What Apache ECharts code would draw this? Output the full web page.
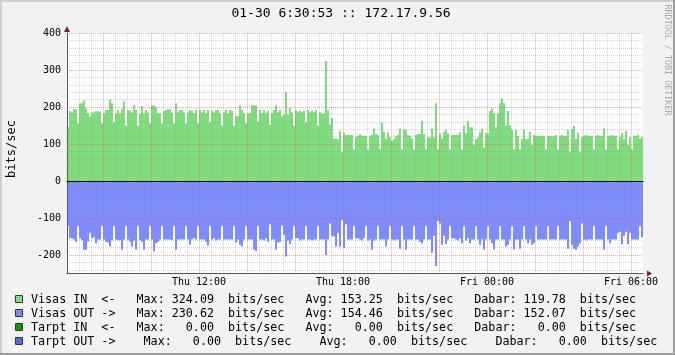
<!DOCTYPE html>
<html><head><meta charset="utf-8">
<script src="https://cdn.jsdelivr.net/npm/echarts@6/dist/echarts.min.js"></script>
<style>html,body{margin:0;padding:0;background:#f2f2f2}#c{width:675px;height:355px}</style>
</head><body><div id="c"></div>
<script>
const titleText = '01-30 6:30:53 :: 172.17.9.56';
const yAxisName = 'bits/sec';
const watermark = 'RRDTOOL / TOBI OETIKER';
const startMinute = 390;   // Thu 06:30, minutes from Thu 00:00
const endMinute = 1830;    // Fri 06:30
const stepMinutes = 5;
const xTickValues = [720, 1080, 1440, 1800];
const xTickLabels = ['Thu 12:00', 'Thu 18:00', 'Fri 00:00', 'Fri 06:00'];
const yTickLabels = [-200, -100, 0, 100, 200, 300, 400];

const visasIn = [
146,189,185,194,194,156,210,210,217,196,183,174,
185,186,189,188,188,156,183,192,192,221,210,158,
183,192,183,196,215,149,192,190,185,205,192,149,
181,203,183,192,185,156,205,205,199,183,183,156,
189,192,194,194,185,156,210,186,192,192,185,156,
185,192,190,183,192,156,192,186,192,183,192,158,
190,185,192,192,183,150,185,192,183,192,190,149,
176,176,205,192,183,156,183,183,205,205,205,160,
192,183,192,183,190,152,183,192,205,186,192,174,
180,240,180,197,186,149,192,186,190,186,190,158,
192,186,190,186,192,149,186,183,183,324.09,192,152,
170,115,115,113,135,79,132,124,124,124,124,86,
118,122,127,122,122,122,86,122,124,142,127,124,
86,158,133,114,131,118,109,113,121,124,142,86,
140,138,124,122,115,86,124,127,127,163,127,86,
118,118,142,118,210,86,129,115,133,138,129,86,
124,124,124,124,132,86,149,129,162,145,145,97,
113,118,132,141,90,129,129,189,196,183,145,183,
210,223,210,150,189,151,138,86,138,122,86,113,
138,113,115,133,97,124,122,122,122,122,122,86,
122,122,120,122,124,86,122,124,122,122,138,79,
141,149,114,131,79,118,122,124,122,122,122,86,
122,124,122,122,142,86,122,122,124,122,122,86,
118,129,113,135,97,118,86,122,122,124,115,119.78
];
const visasOut = [
-122,-155,-155,-158,-164,-122,-155,-160,-186,-186,-164,-140,
-155,-152,-168,-158,-158,-122,-158,-164,-166,-177,-160,-122,
-158,-160,-160,-186,-158,-122,-158,-164,-177,-161,-186,-122,
-160,-164,-185,-158,-158,-122,-158,-190,-168,-164,-158,-122,
-158,-158,-158,-158,-160,-122,-186,-158,-158,-158,-158,-122,
-158,-172,-158,-155,-158,-122,-158,-158,-158,-164,-175,-122,
-158,-155,-161,-158,-158,-122,-158,-158,-158,-158,-158,-122,
-166,-158,-172,-177,-158,-122,-158,-158,-158,-185,-189,-122,
-158,-158,-161,-155,-164,-117,-158,-158,-186,-166,-164,-120,
-145,-204,-161,-170,-158,-122,-155,-155,-161,-158,-158,-122,
-158,-158,-161,-158,-158,-122,-158,-158,-158,-200,-158,-115,
-150,-150,-177,-140,-177,-106,-181,-117,-158,-158,-158,-122,
-155,-155,-158,-161,-155,-122,-161,-158,-186,-161,-158,-122,
-158,-158,-158,-177,-158,-122,-158,-161,-158,-158,-183,-122,
-158,-186,-158,-158,-158,-122,-158,-158,-164,-168,-158,-122,
-158,-158,-194,-148,-230.62,-108,-115,-172,-148,-170,-158,-122,
-155,-155,-158,-161,-155,-168,-122,-161,-155,-168,-158,-158,
-122,-158,-172,-158,-185,-158,-122,-158,-168,-185,-158,-158,
-122,-158,-158,-177,-172,-158,-122,-185,-158,-158,-183,-158,
-122,-158,-168,-158,-172,-168,-122,-158,-158,-158,-158,-158,
-122,-158,-158,-158,-158,-122,-158,-158,-158,-158,-183,-108,
-172,-183,-186,-177,-168,-115,-158,-161,-158,-158,-158,-122,
-158,-158,-158,-158,-186,-122,-158,-168,-158,-158,-158,-140,
-137,-170,-148,-137,-170,-140,-158,-158,-158,-158,-122,-152.07
];

const legendNames = ['Visas IN  <-', 'Visas OUT ->', 'Tarpt IN  <-', 'Tarpt OUT ->'];
const legendColors = ['#7fdd7f', '#8585ff', '#00a000', '#4f6fcf'];
const legendMax = ['324.09', '230.62', '0.00', '0.00'];
const legendAvg = ['153.25', '154.46', '0.00', '0.00'];
const legendCur = ['119.78', '152.07', '0.00', '0.00'];
const unit = 'bits/sec';

// grid steps (axis units)
const xMinorStep = 30, xMajorStep = 120, xMajorFirst = 480;
const yMin = -250, yMax = 400, yMinorStep = 20, yMajorStep = 100;

const pad6 = s => ('      ' + s).slice(-6);
function legendLine(i) {
  const g = i === 3 ? '    ' : '   ';
  return legendNames[i] + g + 'Max: ' + pad6(legendMax[i]) + '  ' + unit + g +
         'Avg: ' + pad6(legendAvg[i]) + '  ' + unit + g +
         'Dabar: ' + pad6(legendCur[i]) + '  ' + unit;
}

const MONO = '"DejaVu Sans Mono", "Liberation Mono", monospace';
const minorC = 'rgba(150,150,150,0.42)';
const majorC = 'rgba(225,90,90,0.55)';

const minorLines = [], majorLines = [];
for (let v = startMinute + xMinorStep; v < endMinute; v += xMinorStep) {
  if ((v - xMajorFirst) % xMajorStep === 0) majorLines.push({xAxis: v});
  else minorLines.push({xAxis: v});
}
for (let v = -240; v <= yMax; v += yMinorStep) {
  if (v % yMajorStep === 0) majorLines.push({yAxis: v});
  else minorLines.push({yAxis: v});
}

const chart = echarts.init(document.getElementById('c'), null, {renderer: 'canvas'});

const graphics = [
  {type:'rect', shape:{x:0,y:0,width:675,height:2}, style:{fill:'#cfcfcf'}, z:10},
  {type:'rect', shape:{x:0,y:0,width:2,height:355}, style:{fill:'#cfcfcf'}, z:10},
  {type:'rect', shape:{x:0,y:353,width:675,height:2}, style:{fill:'#9e9e9e'}, z:10},
  {type:'rect', shape:{x:673,y:0,width:2,height:355}, style:{fill:'#9e9e9e'}, z:10},
  {type:'text', x:341, y:14, style:{text:titleText, font:'13px ' + MONO, fill:'#000', textAlign:'center', textVerticalAlign:'middle'}, z:10},
  {type:'text', x:12, y:149, rotation:Math.PI/2, style:{text:yAxisName, font:'12px ' + MONO, fill:'#000', textAlign:'center', textVerticalAlign:'middle'}, z:10},
  {type:'text', x:667, y:60, rotation:-Math.PI/2, style:{text:watermark, font:'8.4px ' + MONO, fill:'#a8a8a8', textAlign:'center', textVerticalAlign:'middle'}, z:10},
  {type:'polygon', shape:{points:[[64,32],[70,32],[67,26]]}, style:{fill:'#801f1f'}, z:10},
  {type:'polygon', shape:{points:[[647,270.5],[647,276.5],[652,273.5]]}, style:{fill:'#801f1f'}, z:10}
];
const legendY = [299.5, 313.5, 327.5, 341.5];
for (let i = 0; i < 4; i++) {
  graphics.push({type:'rect', shape:{x:15.5, y:legendY[i]-4, width:7, height:7},
    style:{fill:legendColors[i], stroke:'#333', lineWidth:1}, z:10});
  graphics.push({type:'text', x:31, y:legendY[i], style:{text:legendLine(i), font:'11.7px ' + MONO,
    fill:'#000', textAlign:'left', textVerticalAlign:'middle'}, z:10});
}

const xLabelMap = {};
xTickValues.forEach((v, i) => { xLabelMap[v] = xTickLabels[i]; });

function gridSeries(name, lines, color) {
  return {
    type: 'line', name: name, data: [], silent: true, z: 3, xAxisIndex: 0,
    markLine: {
      silent: true, animation: false, symbol: ['none', 'none'], label: {show: false},
      emphasis: {disabled: true},
      lineStyle: {color: color, type: [1, 1], width: 1},
      data: lines
    }
  };
}

chart.setOption({
  animation: false,
  backgroundColor: '#f2f2f2',
  grid: {left: 67, top: 33, width: 576, height: 240.5, show: true, backgroundColor: '#ffffff', borderWidth: 0},
  xAxis: [{
    type: 'value', min: startMinute, max: endMinute, interval: 30, position: 'bottom', z: 4,
    axisLine: {onZero: false, lineStyle: {color: '#555', width: 1}},
    axisTick: {show: false},
    axisLabel: {formatter: v => xLabelMap[v] || '', color: '#000', fontFamily: MONO, fontSize: 10, margin: 4, hideOverlap: false},
    splitLine: {show: false}
  }, {
    type: 'value', min: startMinute, max: endMinute, position: 'top', z: 5,
    axisLine: {show: true, onZero: true, lineStyle: {color: '#000', width: 1}},
    axisTick: {show: false}, axisLabel: {show: false}, splitLine: {show: false}
  }],
  yAxis: {
    type: 'value', min: yMin, max: yMax, interval: 50, z: 4,
    axisLine: {show: true, lineStyle: {color: '#555', width: 1}},
    axisTick: {show: false},
    axisLabel: {formatter: v => yTickLabels.indexOf(v) >= 0 ? String(v) : '', color: '#000', fontFamily: MONO, fontSize: 10, margin: 6},
    splitLine: {show: false}
  },
  series: [{
    type: 'bar', name: 'Visas IN', xAxisIndex: 0, barWidth: 2, barGap: '-100%', silent: true,
    itemStyle: {color: legendColors[0]},
    data: visasIn.map((v, i) => [startMinute + stepMinutes * i + stepMinutes / 2, v])
  }, {
    type: 'bar', name: 'Visas OUT', xAxisIndex: 0, barWidth: 2, barGap: '-100%', silent: true,
    itemStyle: {color: '#7f8cff'},
    data: visasOut.map((v, i) => [startMinute + stepMinutes * i + stepMinutes / 2, v])
  },
  gridSeries('minorGrid', minorLines, minorC),
  gridSeries('majorGrid', majorLines, majorC)
  ],
  graphic: graphics
});
</script></body></html>
